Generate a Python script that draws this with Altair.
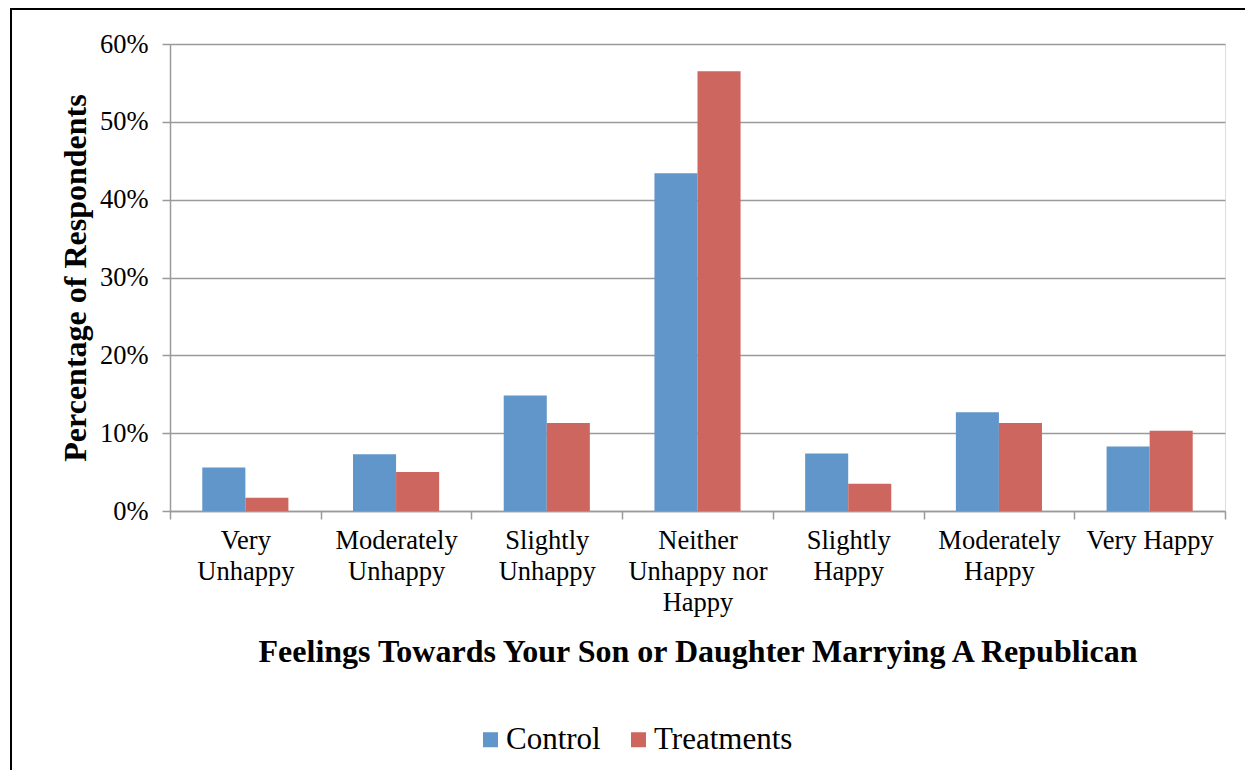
import altair as alt
import pandas as pd

categories = [
    "Very Unhappy",
    "Moderately Unhappy",
    "Slightly Unhappy",
    "Neither Unhappy nor Happy",
    "Slightly Happy",
    "Moderately Happy",
    "Very Happy",
]
label_lines = [
    ["Very", "Unhappy"],
    ["Moderately", "Unhappy"],
    ["Slightly", "Unhappy"],
    ["Neither", "Unhappy nor", "Happy"],
    ["Slightly", "Happy"],
    ["Moderately", "Happy"],
    ["Very Happy"],
]
groups = ["Control", "Treatments"]
control = [5.6, 7.3, 14.85, 43.4, 7.4, 12.7, 8.3]
treatments = [1.7, 5.0, 11.3, 56.5, 3.5, 11.3, 10.3]
colors = ["#6096C9", "#CD665F"]
y_ticks = [0, 10, 20, 30, 40, 50, 60]

rows = []
for c, v in zip(categories, control):
    rows.append({"category": c, "group": "Control", "value": v})
for c, v in zip(categories, treatments):
    rows.append({"category": c, "group": "Treatments", "value": v})
df = pd.DataFrame(rows)

# label expression building multi-line labels
expr = "datum.value"
for c, lines in reversed(list(zip(categories, label_lines))):
    arr = "[" + ",".join("'" + l + "'" for l in lines) + "]"
    expr = f"datum.value == '{c}' ? {arr} : ({expr})"

FONT = "Liberation Serif"
GRAY = "#9a9a9a"

bars = alt.Chart(df).mark_bar().encode(
    x=alt.X(
        "category:N",
        sort=categories,
        scale=alt.Scale(paddingInner=0, paddingOuter=0),
        axis=alt.Axis(
            title="Feelings Towards Your Son or Daughter Marrying A Republican",
            labelExpr=expr,
            labelAngle=0,
            labelFont=FONT,
            labelFontSize=26.5,
            labelLineHeight=31,
            labelColor="black",
            labelPadding=8,
            labelBaseline="top",
            tickBand="extent",
            tickSize=8,
            tickColor=GRAY,
            tickWidth=1.5,
            domainColor=GRAY,
            domainWidth=1.5,
            grid=False,
            titleFont=FONT,
            titleFontSize=32,
            titleFontWeight="bold",
            titleColor="black",
            titlePadding=21,
        ),
    ),
    xOffset=alt.XOffset(
        "group:N",
        sort=groups,
        scale=alt.Scale(paddingInner=0, paddingOuter=0.75),
    ),
    y=alt.Y(
        "value:Q",
        scale=alt.Scale(domain=[0, 60], nice=False),
        axis=alt.Axis(
            title="Percentage of Respondents",
            values=y_ticks,
            labelExpr="datum.value + '%'",
            labelFont=FONT,
            labelFontSize=26.5,
            labelColor="black",
            labelPadding=14,
            tickSize=8,
            tickColor=GRAY,
            tickWidth=1.5,
            domainColor=GRAY,
            domainWidth=1.5,
            grid=True,
            gridColor=GRAY,
            gridWidth=1.5,
            titleFont=FONT,
            titleFontSize=32,
            titleFontWeight="bold",
            titleColor="black",
            titlePadding=7,
        ),
    ),
    color=alt.Color(
        "group:N",
        sort=groups,
        scale=alt.Scale(domain=groups, range=colors),
        legend=alt.Legend(
            title=None,
            orient="none",
            legendX=305,
            legendY=680,
            direction="horizontal",
            symbolType="square",
            symbolSize=225,
            symbolStrokeWidth=0,
            labelFont=FONT,
            labelFontSize=31,
            labelColor="black",
            labelOffset=0,
            columnPadding=22,
        ),
    ),
)

frame_top = alt.Chart(pd.DataFrame({"a": [0]})).mark_rule(
    color="black", strokeWidth=2
).encode(
    x=alt.value(-159),
    x2=alt.value(1120),
    y=alt.value(-35),
)
frame_left = alt.Chart(pd.DataFrame({"a": [0]})).mark_rule(
    color="black", strokeWidth=2
).encode(
    x=alt.value(-159),
    y=alt.value(-36),
    y2=alt.value(800),
)

chart = alt.layer(bars, frame_top, frame_left).properties(
    width=1055,
    height=467,
    autosize="none",
    padding={"left": 162, "top": 36, "right": 20, "bottom": 259},
).configure_view(stroke="transparent").configure(background="white")

chart.save("out.html", embed_options={"renderer": "svg", "actions": False})
